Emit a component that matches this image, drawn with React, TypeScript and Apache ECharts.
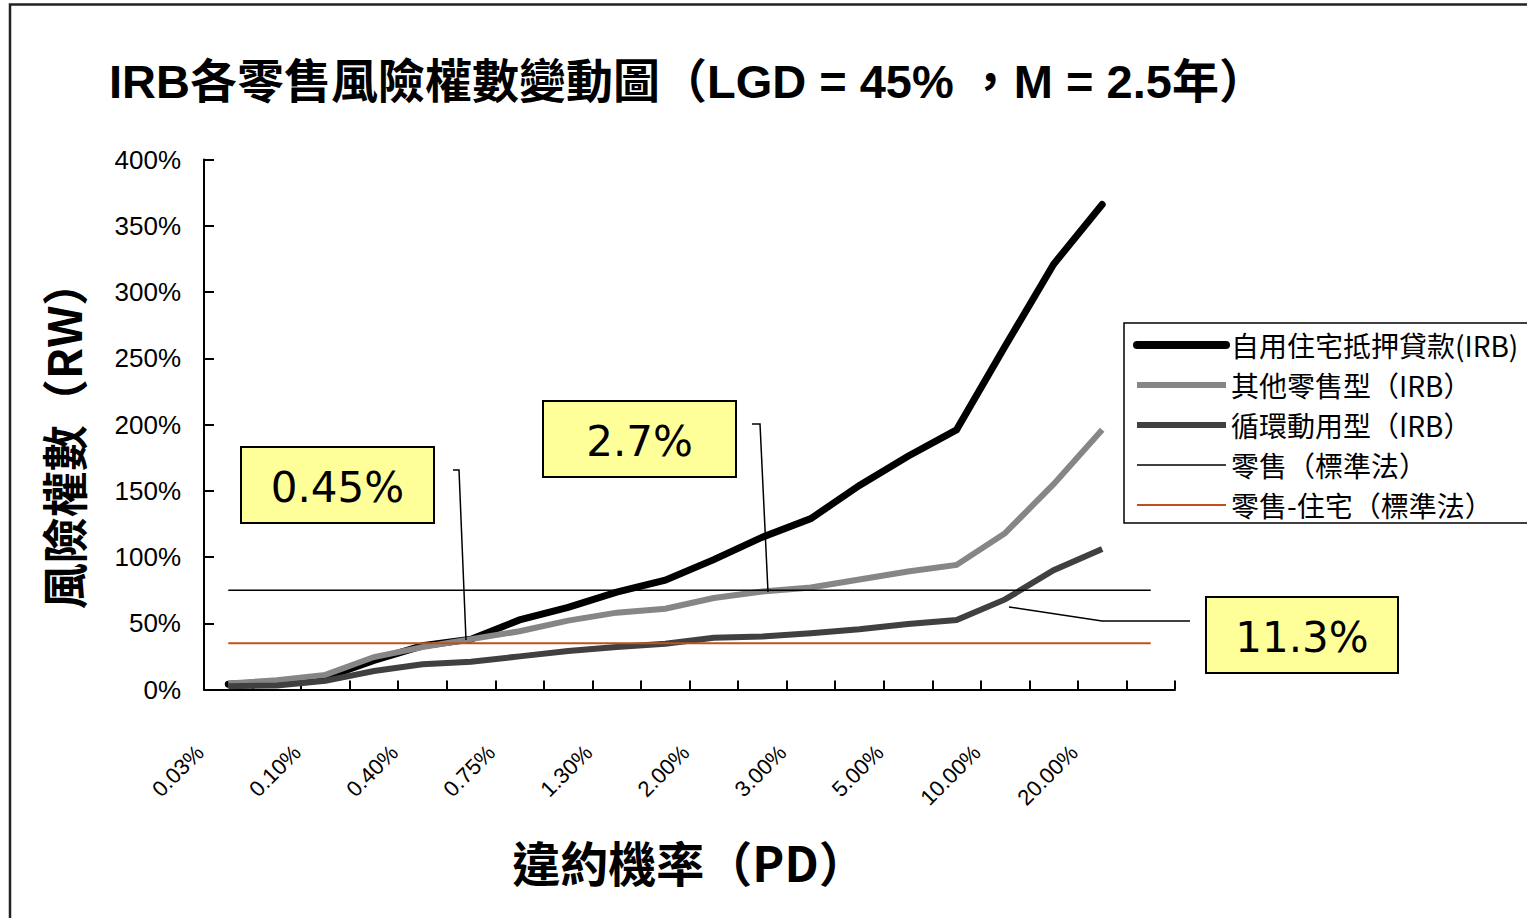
import React, { useEffect, useRef } from "react";
import * as echarts from "echarts";

// PD categories (x axis); the last category is an unlabeled slot that only the flat lines reach
const categories = [
  "0.03%", "0.05%", "0.10%", "0.20%", "0.40%", "0.50%", "0.75%", "1.00%", "1.30%", "1.50%",
  "2.00%", "2.50%", "3.00%", "4.00%", "5.00%", "6.00%", "10.00%", "15.00%", "20.00%", "",
];

// risk weights, in percent
const mortgageIRB = [4, 5.5, 9, 22, 33, 38, 52.5, 62, 73.5, 82.5, 98, 115, 129, 154, 176, 196, 259, 321, 366, null];
const otherRetailIRB = [4.5, 7, 11, 24.5, 32, 38, 44, 52, 58, 61, 69, 74, 77, 83, 89, 94, 118, 155, 196, null];
const revolvingIRB = [2.5, 3, 6.5, 14, 19, 21, 25, 29, 32, 34.5, 39, 40, 42.5, 45.5, 49.5, 52.5, 68, 90, 106, null];
const retailStandard = [75, 75, 75, 75, 75, 75, 75, 75, 75, 75, 75, 75, 75, 75, 75, 75, 75, 75, 75, 75];
const residentialStandard = [35, 35, 35, 35, 35, 35, 35, 35, 35, 35, 35, 35, 35, 35, 35, 35, 35, 35, 35, 35];

const seriesNames = [
  "自用住宅抵押貸款(IRB)",
  "其他零售型（IRB）",
  "循環動用型（IRB）",
  "零售（標準法）",
  "零售-住宅（標準法）",
];

const annotations = ["0.45%", "2.7%", "11.3%"];

const titleText = "IRB各零售風險權數變動圖（LGD = 45% ，M = 2.5年）";
const yName = "風險權數（RW）";
const xName = "違約機率（PD）";

const LATIN = "'Liberation Sans', Arial, 'Noto Sans CJK TC', sans-serif";
const CJK = "'Noto Sans CJK TC', 'Liberation Sans', sans-serif";

export default function App() {
  const ref = useRef<HTMLDivElement>(null);

  useEffect(() => {
    if (!ref.current) return;
    const chart = echarts.init(ref.current, undefined, { renderer: "svg" });

    const box = (x: number, y: number, w: number, h: number, text: string) => ({
      type: "group",
      children: [
        {
          type: "rect",
          shape: { x, y, width: w, height: h },
          style: { fill: "#FFFF99", stroke: "#000", lineWidth: 2 },
        },
        {
          type: "text",
          x: x + w / 2,
          y: y + h / 2 + 2,
          style: {
            text,
            fill: "#000",
            font: "42px 'DejaVu Sans', sans-serif",
            align: "center",
            verticalAlign: "middle",
          },
        },
      ],
    });

    const leader = (pts: number[][]) => ({
      type: "polyline",
      shape: { points: pts },
      style: { stroke: "#000", lineWidth: 1.5, fill: null },
      z: 10,
    });

    const lineColors = ["#000000", "#868686", "#404040", "#000000", "#C0501C"];
    const lineWidths = [7, 6, 6, 1.5, 2];
    const seriesData = [mortgageIRB, otherRetailIRB, revolvingIRB, retailStandard, residentialStandard];

    chart.setOption({
      animation: false,
      backgroundColor: "#fff",
      title: {
        text: titleText,
        left: 104,
        top: 53,
        textStyle: { fontFamily: LATIN, fontSize: 47, fontWeight: "bold", color: "#000" },
      },
      grid: { left: 204, right: 352, top: 159.5, bottom: 228.5, containLabel: false },
      legend: {
        orient: "vertical",
        left: 1124,
        top: 323,
        padding: [8, 40, 4, 9],
        itemWidth: 89,
        itemHeight: 2,
        itemGap: 12,
        borderColor: "#000",
        borderWidth: 1.5,
        backgroundColor: "#fff",
        textStyle: { fontFamily: CJK, fontSize: 28, color: "#000", lineHeight: 28 },
        data: seriesNames.map((name, i) => ({
          name,
          itemStyle: { opacity: 0 },
          lineStyle: { width: lineWidths[i] + (i === 0 ? 1 : 0), color: lineColors[i], cap: i === 0 ? "round" : "butt" },
        })),
      },
      xAxis: {
        type: "category",
        data: categories,
        boundaryGap: true,
        name: xName,
        nameLocation: "middle",
        nameGap: 147,
        nameTextStyle: { fontFamily: CJK, fontSize: 48, fontWeight: "bold", color: "#000" },
        axisLine: { show: true, lineStyle: { color: "#000", width: 2 } },
        axisTick: { show: true, inside: true, length: 9, interval: 0, lineStyle: { color: "#000", width: 2 } },
        axisLabel: {
          interval: 1,
          rotate: 45,
          margin: 31,
          padding: [0, 40, 0, 0],
          fontFamily: LATIN,
          fontSize: 22,
          color: "#000",
        },
        splitLine: { show: false },
      },
      yAxis: {
        type: "value",
        min: 0,
        max: 400,
        interval: 50,
        name: yName,
        nameLocation: "middle",
        nameRotate: 90,
        nameGap: 119,
        nameTextStyle: { fontFamily: CJK, fontSize: 46, fontWeight: "bold", color: "#000", padding: [0, 20, 0, 0] },
        axisLine: { show: true, lineStyle: { color: "#000", width: 2 } },
        axisTick: { show: true, inside: true, length: 10, lineStyle: { color: "#000", width: 2 } },
        axisLabel: { formatter: "{value}%", margin: 23, fontFamily: LATIN, fontSize: 26, color: "#000" },
        splitLine: { show: false },
      },
      series: seriesNames.map((name, i) => ({
        name,
        type: "line",
        data: seriesData[i],
        symbol: "none",
        showSymbol: false,
        connectNulls: false,
        z: 2 + i,
        lineStyle: {
          color: lineColors[i],
          width: lineWidths[i],
          cap: i === 0 ? "round" : "butt",
          join: "miter",
        },
        itemStyle: { color: lineColors[i] },
      })),
      graphic: [
        {
          type: "polyline",
          shape: { points: [[10, 920], [10, 4.5], [1530, 4.5]] },
          style: { stroke: "#222", lineWidth: 2.5, fill: null },
        },
        box(241, 447, 193, 76, annotations[0]),
        box(543, 401, 193, 76, annotations[1]),
        box(1206, 597, 192, 76, annotations[2]),
        leader([[453, 470], [459, 470], [466, 640]]),
        leader([[752, 424], [760, 424], [768, 592]]),
        leader([[1190, 621], [1102, 621], [1009, 607]]),
      ],
    });

    return () => chart.dispose();
  }, []);

  return (
    <div
      ref={ref}
      style={{ position: "absolute", left: 0, top: 0, width: 1527, height: 918 }}
    />
  );
}
